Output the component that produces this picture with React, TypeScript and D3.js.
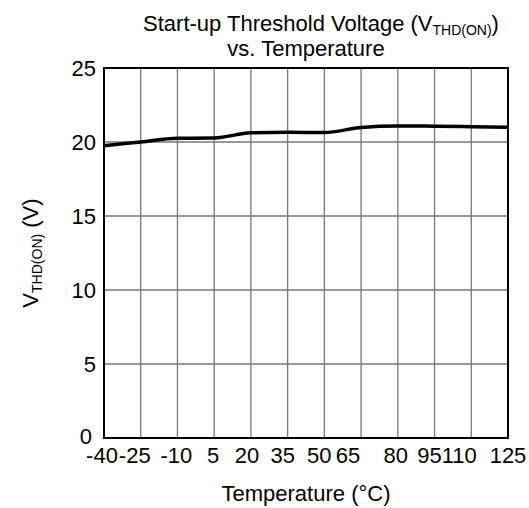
import { useEffect, useRef } from 'react'
import * as d3 from 'd3'

const temps = [-40, -25, -10, 5, 20, 35, 50, 65, 80, 95, 110, 125]
const vthd = [19.75, 20.0, 20.25, 20.27, 20.62, 20.66, 20.64, 20.98, 21.08, 21.07, 21.03, 20.99]
const yTicks = [0, 5, 10, 15, 20, 25]

const W = 529
const H = 508
const margin = { top: 68, right: 21, bottom: 70, left: 104 }
// the original tick labels are not quite centred on their grid lines
const xLabelNudge = [-2, -6, -1, -1, -4, -5, -5, -13, -2, -5, -12, 0]

const App = () => {
  const svgRef = useRef<SVGSVGElement | null>(null)

  useEffect(() => {
    if (!svgRef.current) return
    const svg = d3.select(svgRef.current)
    svg.selectAll('*').remove()

    const width = W - margin.left - margin.right
    const height = H - margin.top - margin.bottom
    const font = '"Liberation Sans", Arial, sans-serif'
    const fs = '22px'

    const x = d3.scaleLinear().domain([-40, 125]).range([0, width])
    const y = d3.scaleLinear().domain([0, 25]).range([height, 0])

    const g = svg.append('g').attr('transform', `translate(${margin.left},${margin.top})`)

    // grid
    g.selectAll('line.vg')
      .data(temps.slice(1, -1))
      .enter()
      .append('line')
      .attr('x1', d => x(d))
      .attr('x2', d => x(d))
      .attr('y1', 0)
      .attr('y2', height)
      .attr('stroke', '#777')
      .attr('stroke-width', 1.3)

    g.selectAll('line.hg')
      .data(yTicks.slice(1, -1))
      .enter()
      .append('line')
      .attr('x1', 0)
      .attr('x2', width)
      .attr('y1', d => y(d))
      .attr('y2', d => y(d))
      .attr('stroke', '#777')
      .attr('stroke-width', 1.3)

    // border
    g.append('rect')
      .attr('width', width)
      .attr('height', height)
      .attr('fill', 'none')
      .attr('stroke', '#000')
      .attr('stroke-width', 2)

    // curve
    const line = d3
      .line<number>()
      .x((_, i) => x(temps[i]))
      .y(d => y(d))
      .curve(d3.curveMonotoneX)

    g.append('path')
      .datum(vthd)
      .attr('d', line)
      .attr('fill', 'none')
      .attr('stroke', '#000')
      .attr('stroke-width', 3.5)

    // y tick labels
    g.selectAll('text.yt')
      .data(yTicks)
      .enter()
      .append('text')
      .attr('x', d => (d === 0 ? -12 : -8))
      .attr('y', d => (d === 0 ? y(d) + 6 : y(d) + 8))
      .attr('text-anchor', 'end')
      .style('font-family', font)
      .style('font-size', fs)
      .text(d => d)

    // x tick labels
    g.selectAll('text.xt')
      .data(temps)
      .enter()
      .append('text')
      .attr('x', (d, i) => x(d) + xLabelNudge[i])
      .attr('y', height + 25)
      .attr('text-anchor', 'middle')
      .style('font-family', font)
      .style('font-size', fs)
      .text(d => d)

    // x title
    svg.append('text')
      .attr('x', margin.left + width / 2)
      .attr('y', 501)
      .attr('text-anchor', 'middle')
      .style('font-family', font)
      .style('font-size', fs)
      .text('Temperature (°C)')

    // y title
    const yt = svg.append('text')
      .attr('transform', `translate(38,${margin.top + height / 2}) rotate(-90)`)
      .attr('text-anchor', 'middle')
      .style('font-family', font)
      .style('font-size', fs)
    yt.append('tspan').text('V')
    yt.append('tspan').attr('dy', 4).style('font-size', '14px').text('THD(ON)')
    yt.append('tspan').attr('dy', -4).text(' (V)')

    // title
    const t1 = svg.append('text')
      .attr('x', 321)
      .attr('y', 31)
      .attr('text-anchor', 'middle')
      .style('font-family', font)
      .style('font-size', fs)
    t1.append('tspan').text('Start-up Threshold Voltage (V')
    t1.append('tspan').attr('dy', 4).style('font-size', '14px').text('THD(ON)')
    t1.append('tspan').attr('dy', -4).text(')')

    svg.append('text')
      .attr('x', margin.left + width / 2)
      .attr('y', 56)
      .attr('text-anchor', 'middle')
      .style('font-family', font)
      .style('font-size', fs)
      .text('vs. Temperature')
  }, [])

  return (
    <svg
      ref={svgRef}
      width={W}
      height={H}
      style={{ position: 'absolute', left: 0, top: 0, background: 'white' }}
    />
  )
}

export default App
